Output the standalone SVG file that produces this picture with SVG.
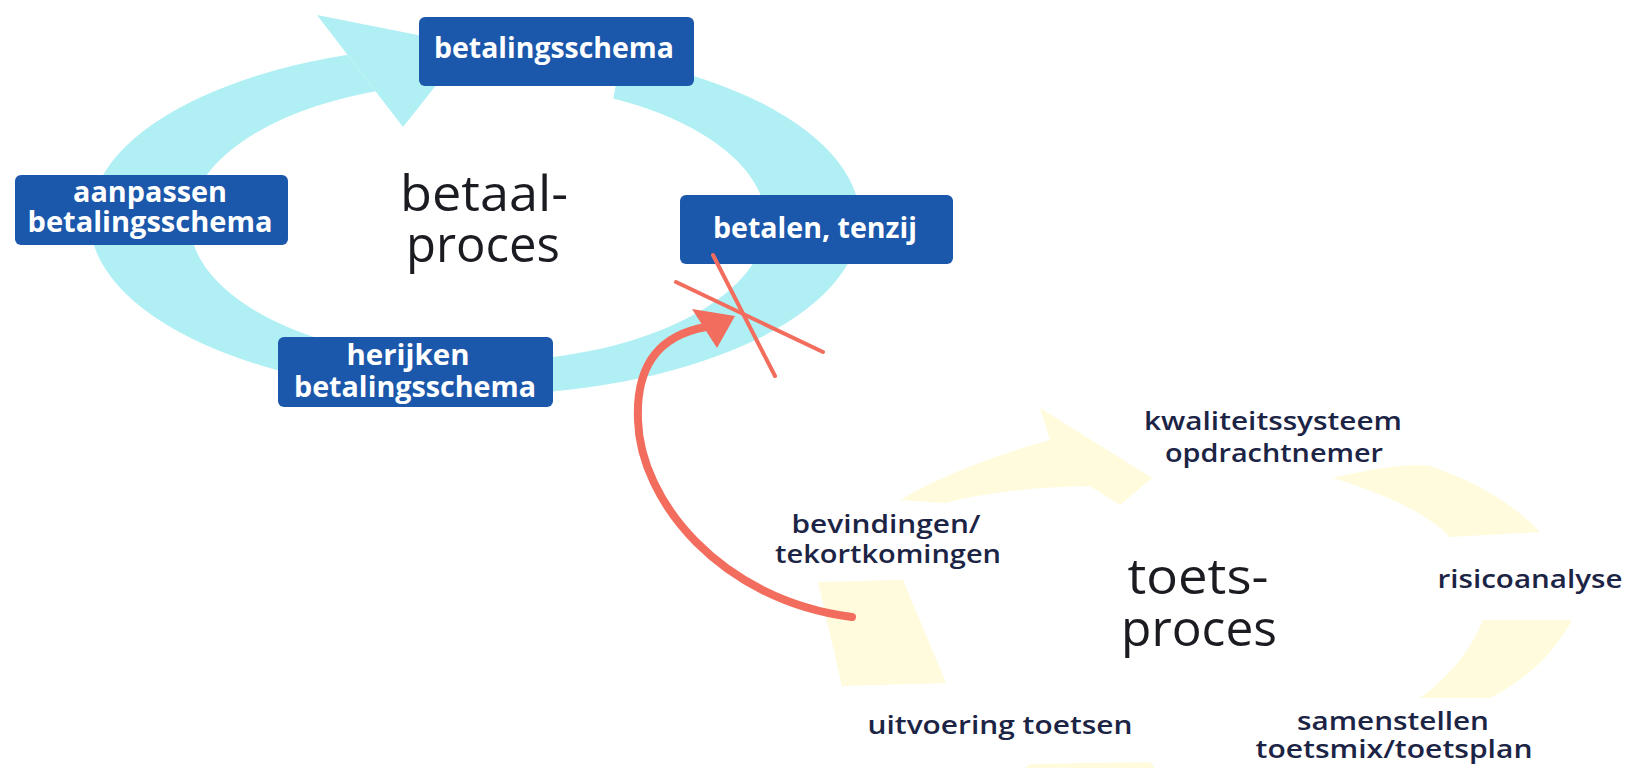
<svg xmlns="http://www.w3.org/2000/svg" width="1632" height="768" viewBox="0 0 1632 768">
<style>
.box{fill:#1b57ab;}
.bt{font-family:"Open Sans","Liberation Sans",sans-serif;font-weight:700;font-size:29px;fill:#ffffff;text-anchor:middle;}
.lbl{font-family:"Open Sans","Liberation Sans",sans-serif;font-weight:600;font-size:25px;fill:#1c2445;text-anchor:middle;}
.big{font-family:"Open Sans","Liberation Sans",sans-serif;font-weight:400;font-size:49px;fill:#1a1c22;text-anchor:middle;}
.cyan{fill:#b0f0f4;}
.yel{fill:#fffbdc;}
.red{stroke:#f26d5d;fill:none;stroke-linecap:round;}
</style>
<defs>
<clipPath id="ringClip"><path clip-rule="evenodd" d="M0,0 H1632 V768 H0 Z M305,0 L421,150 L610,150 L613,100 L632,0 Z"/></clipPath>
</defs>
<rect width="1632" height="768" fill="#ffffff"/>

<g id="betaal-cycle">
<path class="cyan" fill-rule="evenodd" clip-path="url(#ringClip)" d="M90,220 a385,175 0 1,0 770,0 a385,175 0 1,0 -770,0 Z M190,222 a288,140 0 1,0 576,0 a288,140 0 1,0 -576,0 Z"/>
<polygon class="cyan" points="317,15 468,45 403,127"/>
</g>

<g id="toets-cycle">
<path class="yel" d="M818,582 L903,580 L946,683 L842,686 Z"/>
<path class="yel" d="M900,500 Q960,465 1050,440 L1040,408 L1152,478 L1120,505 L1090,486 Q1000,488 945,503 Z"/>
<path class="yel" d="M1333,478 Q1400,462 1430,466 Q1500,490 1540,532 L1450,537 Q1420,505 1333,478 Z"/>
<path class="yel" d="M1483,620 L1572,620 Q1545,670 1490,698 L1420,698 Q1465,665 1483,620 Z"/>
<path class="yel" d="M1030,764 L1150,762 L1155,768 L1025,768 Z"/>
</g>

<g id="node-betalingsschema">
<rect class="box" x="419" y="17" width="275" height="69" rx="6"/>
<text class="bt" x="554" y="58" textLength="240" lengthAdjust="spacingAndGlyphs">betalingsschema</text>
</g>
<g id="node-aanpassen">
<rect class="box" x="15" y="175" width="273" height="70" rx="6"/>
<text class="bt" x="150" y="202" textLength="154" lengthAdjust="spacingAndGlyphs">aanpassen</text>
<text class="bt" x="150" y="232" textLength="245" lengthAdjust="spacingAndGlyphs">betalingsschema</text>
</g>
<g id="node-betalen">
<rect class="box" x="680" y="195" width="273" height="69" rx="6"/>
<text class="bt" x="815" y="238" textLength="204" lengthAdjust="spacingAndGlyphs">betalen, tenzij</text>
</g>
<g id="node-herijken">
<rect class="box" x="278" y="337" width="275" height="70" rx="6"/>
<text class="bt" x="408" y="365" textLength="123" lengthAdjust="spacingAndGlyphs">herijken</text>
<text class="bt" x="415" y="397" textLength="242" lengthAdjust="spacingAndGlyphs">betalingsschema</text>
</g>
<g id="node-betaalproces">
<text class="big" x="484" y="211" textLength="168" lengthAdjust="spacingAndGlyphs">betaal-</text>
<text class="big" x="483" y="262" textLength="154" lengthAdjust="spacingAndGlyphs">proces</text>
</g>

<g id="node-kwaliteitssysteem">
<text class="lbl" x="1273" y="430" textLength="258" lengthAdjust="spacingAndGlyphs">kwaliteitssysteem</text>
<text class="lbl" x="1274" y="462" textLength="218" lengthAdjust="spacingAndGlyphs">opdrachtnemer</text>
</g>
<g id="node-bevindingen">
<text class="lbl" x="886" y="533" textLength="189" lengthAdjust="spacingAndGlyphs">bevindingen/</text>
<text class="lbl" x="888" y="563" textLength="226" lengthAdjust="spacingAndGlyphs">tekortkomingen</text>
</g>
<g id="node-toetsproces">
<text class="big" x="1198" y="594" textLength="141" lengthAdjust="spacingAndGlyphs">toets-</text>
<text class="big" x="1199" y="646" textLength="156" lengthAdjust="spacingAndGlyphs">proces</text>
</g>
<g id="node-risicoanalyse">
<text class="lbl" x="1530" y="588" textLength="185" lengthAdjust="spacingAndGlyphs">risicoanalyse</text>
</g>
<g id="node-uitvoering">
<text class="lbl" x="1000" y="734" textLength="265" lengthAdjust="spacingAndGlyphs">uitvoering toetsen</text>
</g>
<g id="node-samenstellen">
<text class="lbl" x="1393" y="730" textLength="192" lengthAdjust="spacingAndGlyphs">samenstellen</text>
<text class="lbl" x="1394" y="758" textLength="277" lengthAdjust="spacingAndGlyphs">toetsmix/toetsplan</text>
</g>

<g id="connectors">
<path class="red" stroke-width="8" d="M852,617 C720,600 640,500 638,420 C636,370 655,336 706,327"/>
<polygon fill="#f26d5d" points="692,309 735,316 717,348"/>
<line class="red" stroke-width="4" x1="713" y1="255" x2="775" y2="376"/>
<line class="red" stroke-width="4" x1="676" y1="282" x2="823" y2="352"/>
</g>
</svg>
